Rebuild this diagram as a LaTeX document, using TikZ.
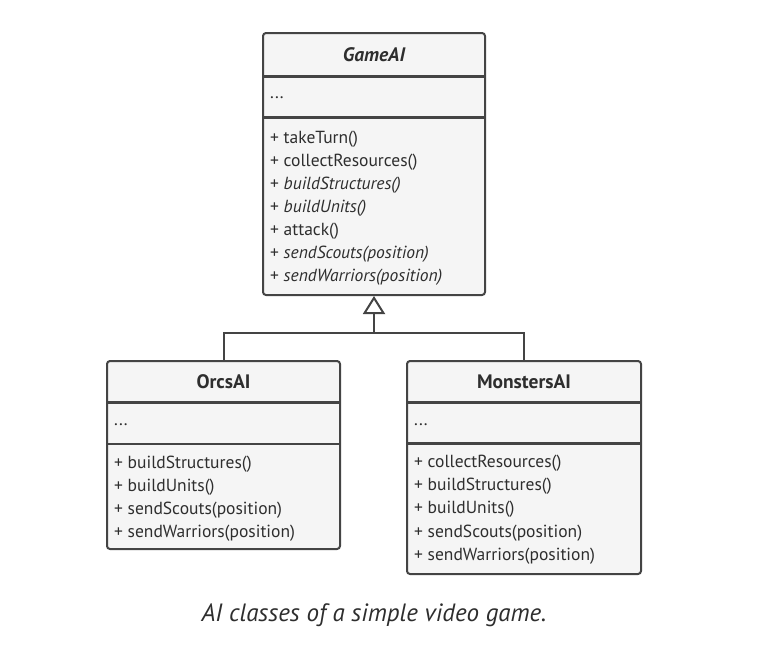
\documentclass[tikz,border=0pt]{standalone}
\usepackage{fontspec}
\setmainfont{PT Sans}
\usetikzlibrary{arrows.meta}
\definecolor{umlline}{HTML}{444444}
\definecolor{umlfill}{HTML}{F5F5F5}
\definecolor{umltext}{HTML}{2E2E2E}
\tikzset{
  classbox/.style={draw=umlline, fill=umlfill, line width=2pt, rounded corners=3pt, inner sep=0pt},
  sepline/.style={draw=umlline, line width=2.4pt},
  title/.style={text=umltext, font=\fontsize{19.5}{22}\selectfont\bfseries},
  member/.style={anchor=west, text=umltext, inner sep=0pt, font=\fontsize{17.5}{20}\selectfont},
  link/.style={draw=umlline, line width=2pt},
}
\begin{document}
\begin{tikzpicture}[x=1pt, y=-1pt]
\useasboundingbox (0,0) rectangle (782,665);
% GameAI
\node[classbox, minimum width=222pt, minimum height=262pt] (game) at (374,164) {};
\draw[sepline] (263,76.5) -- (485,76.5);
\draw[sepline] (263,117.5) -- (485,117.5);
\node[title] (gameT) at (374,55) {\itshape GameAI};
\node[member] (gameA) at (270,98) {...};
\node[member] (gameM1) at (270,139) {+ takeTurn()};
\node[member] (gameM2) at (270,162) {+ collectResources()};
\node[member] (gameM3) at (270,185) {+ \textit{buildStructures()}};
\node[member] (gameM4) at (270,208) {+ \textit{buildUnits()}};
\node[member] (gameM5) at (270,231) {+ attack()};
\node[member] (gameM6) at (270,254) {+ \textit{sendScouts(position)}};
\node[member] (gameM7) at (270,277) {+ \textit{sendWarriors(position)}};
% OrcsAI
\node[classbox, minimum width=233pt, minimum height=188pt] (orcs) at (223.5,455) {};
\draw[sepline] (107,402.5) -- (340,402.5);
\draw[sepline] (107,444) -- (340,444);
\node[title] (orcsT) at (223.5,382) {OrcsAI};
\node[member] (orcsA) at (114,425) {...};
\node[member] (orcsM1) at (114,464) {+ buildStructures()};
\node[member] (orcsM2) at (114,487) {+ buildUnits()};
\node[member] (orcsM3) at (114,510) {+ sendScouts(position)};
\node[member] (orcsM4) at (114,533) {+ sendWarriors(position)};
% MonstersAI
\node[classbox, minimum width=234pt, minimum height=213pt] (monsters) at (524,467.5) {};
\draw[sepline] (407,402.5) -- (641,402.5);
\draw[sepline] (407,443.5) -- (641,443.5);
\node[title] (monstersT) at (524,382) {MonstersAI};
\node[member] (monstersA) at (414,425) {...};
\node[member] (monstersM1) at (414,463) {+ collectResources()};
\node[member] (monstersM2) at (414,486) {+ buildStructures()};
\node[member] (monstersM3) at (414,509) {+ buildUnits()};
\node[member] (monstersM4) at (414,533) {+ sendScouts(position)};
\node[member] (monstersM5) at (414,556) {+ sendWarriors(position)};
% inheritance
\coordinate (join) at (374,333);
\draw[link] (orcs.north) |- (join) -| (monsters.north);
\draw[link, -{Triangle[open, length=18pt, width=22pt, fill=white]}] (join) -- (game.south);
\node[text=umltext, font=\fontsize{25}{29}\selectfont\itshape] (caption) at (374,615) {AI classes of a simple video game.};
\end{tikzpicture}
\end{document}
